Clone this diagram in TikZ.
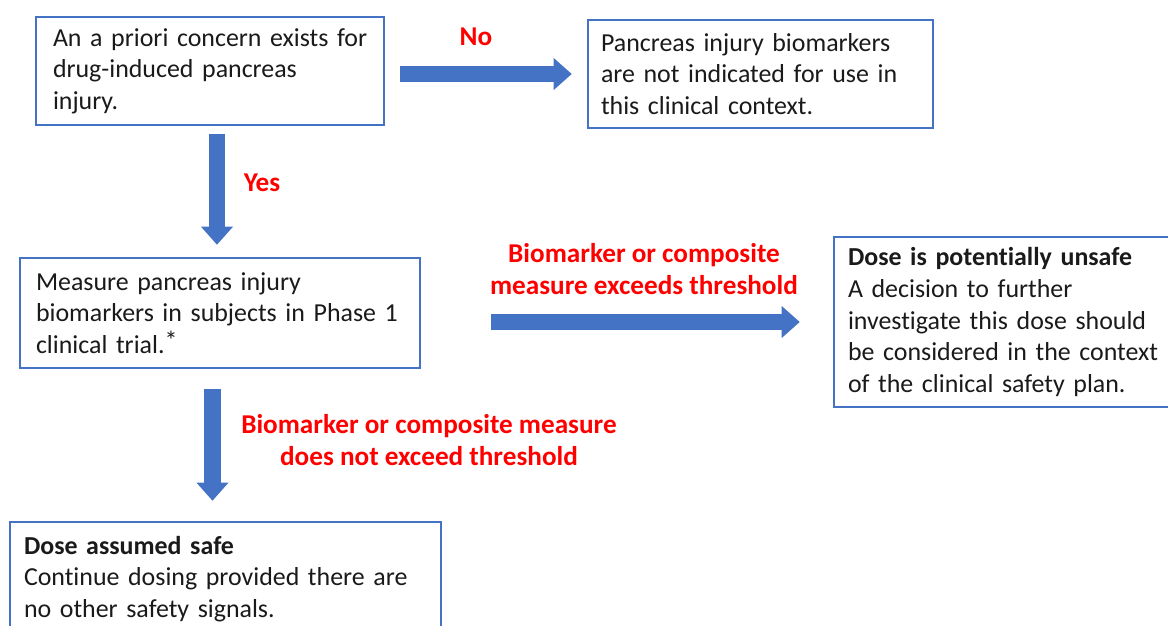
\documentclass[tikz,border=0pt]{standalone}
\usepackage{fontspec}
\setmainfont{Carlito}[Ligatures={NoCommon}]
\usetikzlibrary{arrows.meta}
\definecolor{obl}{HTML}{4472C4}
\definecolor{ored}{HTML}{FF0000}
\definecolor{otxt}{HTML}{1A1A1A}
\tikzset{
  box/.style={draw=obl, line width=2.6pt, fill=white, text=otxt, align=left,
    inner ysep=0pt, font=\fontsize{25.9}{31.6}\selectfont},
  lbl/.style={text=ored, font=\fontsize{27.2}{31.5}\selectfont\bfseries,
    align=center, inner sep=0pt},
  bigarrow/.style={draw=obl, line width=16.5pt,
    -{Triangle[width=32pt,length=18pt,line width=0pt]}},
}
\begin{document}
\begin{tikzpicture}[x=1pt,y=-1pt]
\useasboundingbox (0,0) rectangle (1168,625);

\node[box, text width=314pt, inner xsep=17pt, minimum height=108pt] (b1) at (210,71)
  {\mbox{An a priori concern exists for}\\\mbox{drug-induced pancreas}\\\mbox{injury.}};
\node[box, text width=319pt, inner xsep=13pt, minimum height=108pt] (b2) at (760.5,74)
  {\mbox{Pancreas injury biomarkers}\\\mbox{are not indicated for use in}\\\mbox{this clinical context.}};
\node[box, text width=368pt, inner xsep=16pt, minimum height=110pt] (b3) at (220,313)
  {\mbox{Measure pancreas injury}\\\mbox{biomarkers in subjects in Phase 1}\\\mbox{clinical trial.\raisebox{4pt}{*}}};
\node[box, text width=318pt, inner xsep=14pt, minimum height=170pt] (b4) at (1007,322)
  {\mbox{\textbf{Dose is potentially unsafe}}\\\mbox{A decision to further}\\\mbox{investigate this dose should}\\\mbox{be considered in the context}\\\mbox{of the clinical safety plan.}};
\node[box, text width=403pt, inner xsep=14pt, minimum height=114pt] (b5) at (225.5,579)
  {\mbox{\textbf{Dose assumed safe}}\\\mbox{Continue dosing provided there are}\\\mbox{no other safety signals.}};

\coordinate (yx) at (217,0);
\coordinate (dx) at (212.5,0);

\draw[bigarrow, shorten <=15pt, shorten >=15pt] (b1.east |- b2.west) -- (b2.west);
\draw[bigarrow, shorten <=8pt, shorten >=12pt] (yx |- b1.south) -- (yx |- b3.north);
\draw[bigarrow, shorten <=70pt, shorten >=33pt] (b3.east |- b4.west) -- (b4.west);
\draw[bigarrow, shorten <=20pt, shorten >=20pt] (dx |- b3.south) -- (dx |- b5.north);

\node[lbl] (lno) at (476,37) {No};
\node[lbl] (lyes) at (262,183) {Yes};
\node[lbl] (lexc) at (644,269) {Biomarker or composite\\measure exceeds threshold};
\node[lbl] (lnot) at (429,440) {Biomarker or composite measure\\does not exceed threshold};
\end{tikzpicture}
\end{document}
